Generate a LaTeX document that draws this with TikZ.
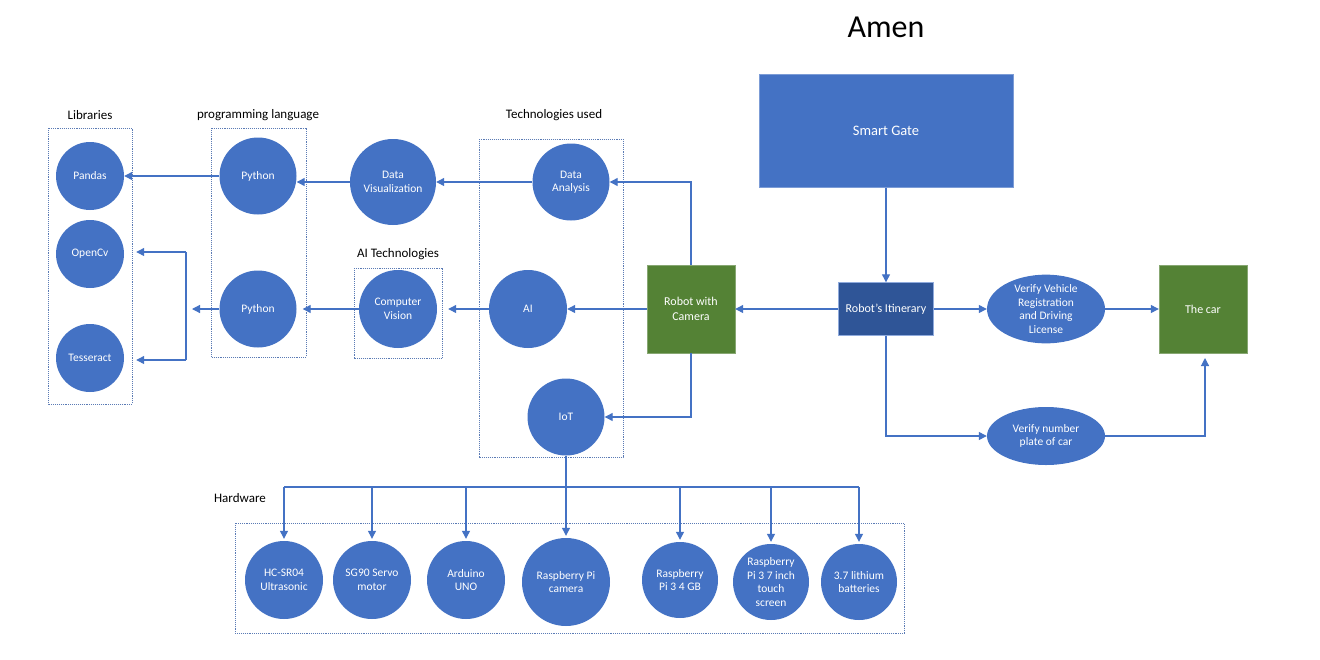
\documentclass[tikz,border=0pt]{standalone}
\usepackage{fontspec}
\setmainfont{Carlito}
\usetikzlibrary{arrows.meta,shapes.geometric}
\definecolor{cblue}{HTML}{4472C4}
\definecolor{dblue}{HTML}{2F5597}
\definecolor{cgreen}{HTML}{548235}
\definecolor{lblue}{HTML}{4472C4}
\definecolor{gblue}{HTML}{5B7BB5}
\begin{document}
\begin{tikzpicture}[x=1pt,y=-1pt,
  circ/.style={circle, fill=cblue, text=white, minimum size=#1, inner sep=0pt, align=center, font=\fontsize{11.5}{13.5}\selectfont},
  oval/.style={ellipse, fill=cblue, text=white, minimum width=118pt, inner sep=0pt, align=center, font=\fontsize{11.5}{13.5}\selectfont},
  sqbox/.style={rectangle, fill=cgreen, draw=cgreen!70!white, text=white, minimum width=88pt, minimum height=88pt, align=center, font=\fontsize{12}{14.5}\selectfont},
  grp/.style={draw=gblue, densely dotted, line width=0.9pt},
  head/.style={font=\fontsize{13}{15}\selectfont, text=black},
  conn/.style={draw=lblue, line width=1.2pt, -{Triangle[length=8pt,width=8pt]}},
  plain/.style={draw=lblue, line width=1.2pt}
]
\useasboundingbox (0,0) rectangle (1320,659);
\fill[white] (0,0) rectangle (1320,659);

% title
\node[font=\fontsize{32}{36}\selectfont] (title) at (886,27) {Amen};

% group boxes
\draw[grp] (48,128) rectangle (132,404);
\draw[grp] (211,128) rectangle (306,357);
\draw[grp] (354,268) rectangle (442,358);
\draw[grp] (479,139) rectangle (623,457);
\draw[grp] (235,523) rectangle (904,633);

% headings
\node[head] (hlib) at (90,115) {Libraries};
\node[head] (hprog) at (258,115) {programming language};
\node[head] (htech) at (554,115) {Technologies used};
\node[head] (hai) at (398,254) {AI Technologies};
\node[head] (hhw) at (240,498) {Hardware};

% libraries
\node[circ=68pt] (pandas) at (90,176) {Pandas};
\node[circ=68pt] (opencv) at (90,254) {OpenCv};
\node[circ=68pt] (tess) at (90,358) {Tesseract};

% python
\node[circ=77pt] (py1) at (258,176) {Python};
\node[circ=77pt] (py2) at (258,309) {Python};

% middle
\node[circ=86pt] (dvis) at (393,182) {Data\\Visualization};
\node[circ=78pt] (cv) at (398,309) {Computer\\Vision};
\node[circ=77pt] (dana) at (571,182) {Data\\Analysis};
\node[circ=78pt] (ai) at (528,309) {AI};
\node[circ=77pt] (iot) at (566,417) {IoT};

% right
\node[sqbox] (robot) at (691,309) {Robot with\\Camera};
\node[rectangle, fill=cblue, draw=cblue!70!white, text=white, minimum width=254pt, minimum height=113pt, font=\fontsize{14.5}{17}\selectfont] (gate) at (886,131) {Smart Gate};
\node[rectangle, fill=dblue, draw=cblue!60!white, text=white, minimum width=95pt, minimum height=53pt, font=\fontsize{12}{14.5}\selectfont] (itin) at (886,309) {Robot’s Itinerary};
\node[oval, minimum height=67pt] (vveh) at (1046,309) {Verify Vehicle\\Registration\\and Driving\\License};
\node[oval, minimum height=58pt] (vnum) at (1046,436) {Verify number\\plate of car};
\node[sqbox] (car) at (1203,309) {The car};

% hardware
\node[circ=78pt] (hc) at (284,580) {HC-SR04\\Ultrasonic};
\node[circ=78pt] (sg) at (372,580) {SG90 Servo\\motor};
\node[circ=78pt] (ard) at (466,580) {Arduino\\UNO};
\node[circ=88pt] (rpc) at (566,582) {Raspberry Pi\\camera};
\node[circ=76pt] (rp4) at (680,580) {Raspberry\\Pi 3 4 GB};
\node[circ=76pt] (rp7) at (771,582) {Raspberry\\Pi 3 7 inch\\touch\\screen};
\node[circ=76pt] (bat) at (859,582) {3.7 lithium\\batteries};

% coordinates
\coordinate (busL) at (284,487);
\coordinate (busR) at (859,487);
\coordinate (pyend) at (192,309);
\coordinate (brT) at (186,252);
\coordinate (brB) at (186,360);
\coordinate (carin) at (1205,358);

% connectors right side
\draw[conn] (gate.south) -- (itin.north);
\draw[conn] (itin.west) -- (robot.east);
\draw[conn] (itin.east) -- (vveh.west);
\draw[conn] (vveh.east) -- (car.west);
\draw[conn] (itin.south) |- (vnum.west);
\draw[conn] (vnum.east) -| (carin);

% robot to technologies
\draw[conn] (robot.north) |- (dana.east);
\draw[conn] (robot.west) -- (ai.east);
\draw[conn] (robot.south) |- (iot.east);

% technologies to left
\draw[conn] (dana.west) -- (dvis.east);
\draw[conn] (dvis.west) -- (dvis.west -| py1.east);
\draw[conn] (py1.west) -- (pandas.east);
\draw[conn] (ai.west) -- ([xshift=11pt]cv.east);
\draw[conn] (cv.west) -- ([xshift=6pt]py2.east);
\draw[conn] (py2.west) -- (pyend);
\draw[conn] (brT) -- ([xshift=12pt]brT -| opencv.east);
\draw[plain] (brT) -- (brB);
\draw[conn] (brB) -- ([xshift=12pt]brB -| tess.east);

% IoT to hardware
\draw[conn] (iot.south) -- ([yshift=2pt]rpc.north);
\draw[plain] (busL) -- (busR);
\draw[conn] (busL) -- ([yshift=2pt]hc.north);
\draw[conn] (372,487) -- ([yshift=2pt]sg.north);
\draw[conn] (466,487) -- ([yshift=2pt]ard.north);
\draw[conn] (680,487) -- ([yshift=2pt]rp4.north);
\draw[conn] (771,487) -- ([yshift=2pt]rp7.north);
\draw[conn] (busR) -- ([yshift=2pt]bat.north);
\end{tikzpicture}
\end{document}
